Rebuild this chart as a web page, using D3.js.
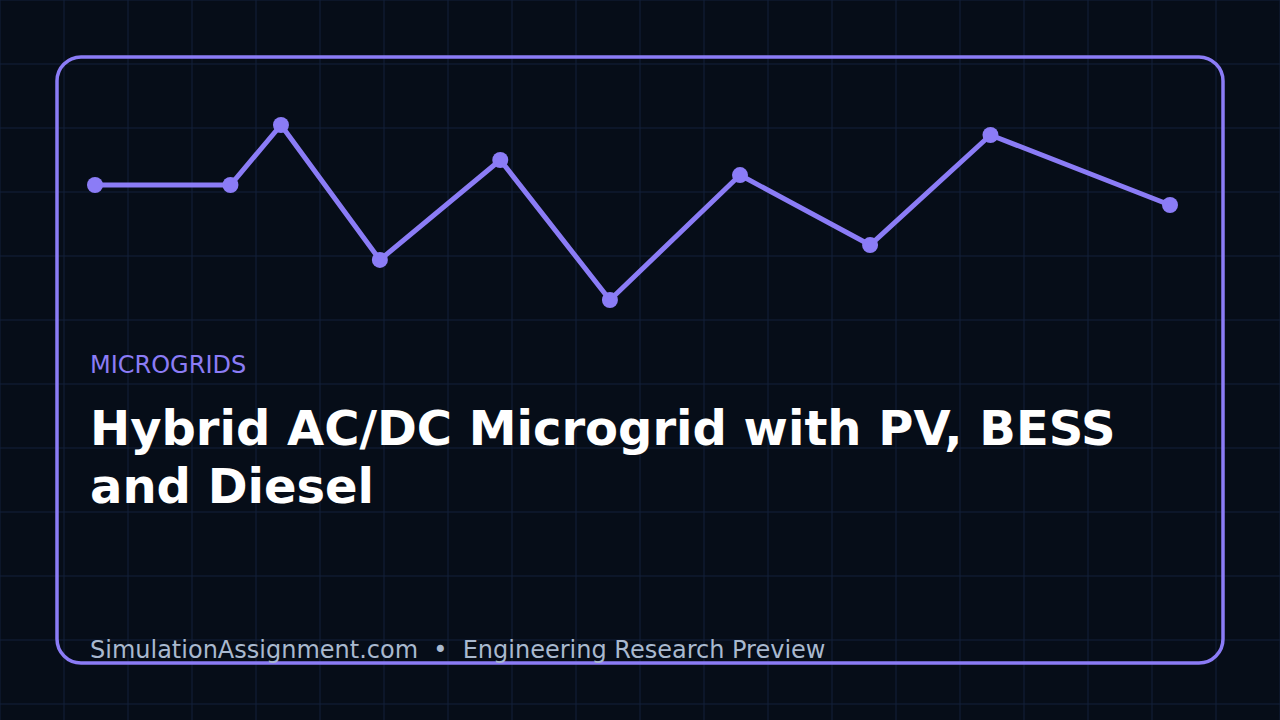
<!DOCTYPE html><html><head><meta charset="utf-8"><script src="https://cdn.jsdelivr.net/npm/d3@7"></script>
<style>body{margin:0;background:#060d18} text{white-space:pre}</style></head><body><svg id="c" width="1280" height="720"></svg><script>
const xValues=[0,12.6,17.3,26.5,37.7,47.9,60,72.1,83.3,100];
const yValues=[65.7,65.7,100,22.9,80,0,71.4,31.4,94.3,54.3];
const svg=d3.select("#c");
svg.append("rect").attr("width",1280).attr("height",720).attr("fill","#060d18");
const g=svg.append("g");
for(const v of d3.range(0,1281,64))g.append("line").attr("x1",v).attr("x2",v).attr("y1",0).attr("y2",720).attr("stroke","#13213a").attr("stroke-width",1);
for(const v of d3.range(0,721,64))g.append("line").attr("y1",v).attr("y2",v).attr("x1",0).attr("x2",1280).attr("stroke","#13213a").attr("stroke-width",1);
svg.append("rect").attr("x",57).attr("y",57).attr("width",1166).attr("height",606).attr("rx",24).attr("fill","none").attr("stroke","#8b7cf6").attr("stroke-width",3.5);
const x=d3.scaleLinear().domain([0,100]).range([95,1170]);
const y=d3.scaleLinear().domain([0,100]).range([300,125]);
const pts=xValues.map((v,i)=>[v,yValues[i]]);
svg.append("path").attr("d",d3.line().x(d=>x(d[0])).y(d=>y(d[1]))(pts)).attr("fill","none").attr("stroke","#8b7cf6").attr("stroke-width",5).attr("stroke-linejoin","round");
svg.selectAll("circle.p").data(pts).join("circle").attr("cx",d=>x(d[0])).attr("cy",d=>y(d[1])).attr("r",8).attr("fill","#8b7cf6");
const f="DejaVu Sans, sans-serif";
svg.append("text").attr("x",90).attr("y",373).attr("font-family",f).attr("font-size",24).attr("fill","#8b7cf6").text("MICROGRIDS");
svg.append("text").attr("x",90).attr("y",445).attr("font-family",f).attr("font-size",48).attr("font-weight","bold").attr("fill","#ffffff").text("Hybrid AC/DC Microgrid with PV, BESS");
svg.append("text").attr("x",90).attr("y",503).attr("font-family",f).attr("font-size",48).attr("font-weight","bold").attr("fill","#ffffff").text("and Diesel");
svg.append("text").attr("x",90).attr("y",658).attr("font-family",f).attr("font-size",24).attr("fill","#a9b9cf").text("SimulationAssignment.com  •  Engineering Research Preview");
</script></body></html>
